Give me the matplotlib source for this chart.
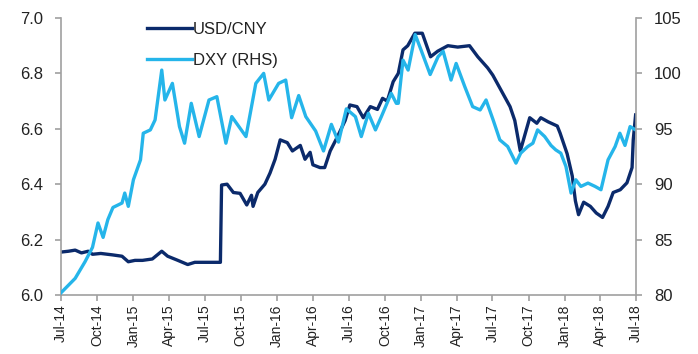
import pandas as pd
import matplotlib
matplotlib.use('Agg')
import matplotlib.pyplot as plt
import matplotlib.dates as mdates

plt.rcParams['font.family'] = ['Liberation Sans', 'DejaVu Sans']

cny_dates = ['2014-07-01', '2014-07-20', '2014-08-06', '2014-08-22', '2014-09-08', '2014-09-19',
             '2014-10-10', '2014-11-08', '2014-12-03', '2014-12-19', '2015-01-05', '2015-01-24',
             '2015-02-18', '2015-03-14', '2015-03-29', '2015-04-24', '2015-05-19', '2015-06-06',
             '2015-07-09', '2015-08-10', '2015-08-13', '2015-08-27', '2015-09-12', '2015-09-29',
             '2015-10-16', '2015-10-28', '2015-11-01', '2015-11-13', '2015-12-01', '2015-12-14',
             '2015-12-27', '2016-01-09', '2016-01-27', '2016-02-09', '2016-02-29', '2016-03-12',
             '2016-03-25', '2016-04-01', '2016-04-19', '2016-05-01', '2016-05-15', '2016-06-02',
             '2016-06-22', '2016-07-04', '2016-07-22', '2016-08-07', '2016-08-25', '2016-09-12',
             '2016-09-25', '2016-10-07', '2016-10-22', '2016-11-04', '2016-11-16', '2016-11-28',
             '2016-12-16', '2017-01-04', '2017-01-25', '2017-02-12', '2017-03-10', '2017-04-04',
             '2017-05-04', '2017-05-25', '2017-06-19', '2017-07-02', '2017-07-19', '2017-08-15',
             '2017-08-27', '2017-09-10', '2017-09-22', '2017-10-04', '2017-10-22', '2017-11-01',
             '2017-11-20', '2017-12-13', '2017-12-20', '2018-01-07', '2018-01-20', '2018-01-28',
             '2018-02-05', '2018-02-18', '2018-03-07', '2018-03-22', '2018-04-07', '2018-04-21',
             '2018-05-04', '2018-05-22', '2018-06-08', '2018-06-21', '2018-06-24', '2018-06-30']
cny_values = [6.155, 6.158, 6.162, 6.152, 6.158, 6.147,
              6.150, 6.145, 6.140, 6.120, 6.125, 6.125,
              6.130, 6.158, 6.140, 6.125, 6.110, 6.118,
              6.118, 6.118, 6.397, 6.400, 6.370, 6.367,
              6.325, 6.360, 6.320, 6.370, 6.400, 6.440,
              6.490, 6.560, 6.550, 6.520, 6.540, 6.490,
              6.515, 6.470, 6.460, 6.460, 6.520, 6.570,
              6.630, 6.686, 6.680, 6.640, 6.680, 6.670,
              6.710, 6.700, 6.770, 6.800, 6.885, 6.900,
              6.945, 6.945, 6.860, 6.880, 6.900, 6.895,
              6.900, 6.860, 6.820, 6.794, 6.750, 6.680,
              6.630, 6.520, 6.580, 6.640, 6.620, 6.640,
              6.625, 6.610, 6.585, 6.510, 6.430, 6.340,
              6.290, 6.335, 6.320, 6.296, 6.280, 6.320,
              6.370, 6.380, 6.405, 6.460, 6.560, 6.650]

dxy_dates = ['2014-07-01', '2014-08-06', '2014-08-31', '2014-09-19', '2014-10-03', '2014-10-16',
             '2014-10-28', '2014-11-10', '2014-12-03', '2014-12-10', '2014-12-19', '2015-01-01',
             '2015-01-19', '2015-01-26', '2015-02-13', '2015-02-25', '2015-03-14', '2015-03-22',
             '2015-04-10', '2015-04-28', '2015-05-11', '2015-05-28', '2015-06-17', '2015-07-12',
             '2015-08-01', '2015-08-24', '2015-09-08', '2015-10-14', '2015-11-08', '2015-11-28',
             '2015-12-11', '2016-01-05', '2016-01-23', '2016-02-07', '2016-02-25', '2016-03-14',
             '2016-04-08', '2016-04-28', '2016-05-18', '2016-06-05', '2016-06-25', '2016-07-18',
             '2016-08-02', '2016-08-20', '2016-09-07', '2016-09-22', '2016-10-17', '2016-10-30',
             '2016-11-04', '2016-11-16', '2016-11-29', '2016-12-17', '2017-01-01', '2017-01-24',
             '2017-02-13', '2017-02-26', '2017-03-18', '2017-03-31', '2017-04-22', '2017-05-12',
             '2017-05-31', '2017-06-15', '2017-07-03', '2017-07-20', '2017-08-09', '2017-08-30',
             '2017-09-11', '2017-09-29', '2017-10-12', '2017-10-24', '2017-11-11', '2017-11-27',
             '2017-12-09', '2017-12-22', '2018-01-04', '2018-01-17', '2018-01-29', '2018-02-11',
             '2018-03-01', '2018-03-19', '2018-04-03', '2018-04-21', '2018-05-09', '2018-05-21',
             '2018-06-03', '2018-06-16', '2018-06-30']
dxy_values = [80.2, 81.5, 83.0, 84.3, 86.5, 85.2,
              86.8, 87.9, 88.3, 89.2, 88.0, 90.4,
              92.2, 94.6, 94.9, 95.8, 100.3, 97.6,
              99.1, 95.2, 93.7, 97.3, 94.3, 97.6,
              97.9, 93.7, 96.1, 94.3, 99.1, 100.0,
              97.6, 99.1, 99.4, 96.0, 98.0, 96.1,
              94.8, 93.0, 95.4, 93.8, 96.8, 96.1,
              94.3, 96.4, 94.9, 96.1, 98.2, 97.3,
              97.3, 101.2, 100.3, 103.5, 102.1, 99.9,
              101.5, 102.0, 99.4, 100.9, 98.8, 97.0,
              96.7, 97.6, 95.8, 94.0, 93.4, 91.9,
              92.8, 93.4, 93.7, 94.9, 94.3, 93.5,
              93.1, 92.8, 91.6, 89.2, 90.4, 89.8,
              90.1, 89.8, 89.5, 92.2, 93.4, 94.6,
              93.5, 95.2, 94.9]

dark = '#0b2a6b'
light = '#25b5ea'
grey = '#a0a0a0'
txt = '#222222'

fig = plt.figure(figsize=(6.98, 3.54), dpi=100)
ax = fig.add_axes([61/698, 1 - 295/354, (636 - 61)/698, (295 - 18)/354])
ax2 = ax.twinx()

l1, = ax.plot(pd.to_datetime(cny_dates), cny_values, color=dark, lw=2.4, label='USD/CNY')
l2, = ax2.plot(pd.to_datetime(dxy_dates), dxy_values, color=light, lw=2.4, label='DXY (RHS)')

ax.set_xlim(pd.Timestamp('2014-07-01'), pd.Timestamp('2018-07-01'))
ax.set_ylim(6.0, 7.0)
ax2.set_ylim(80, 105)
ax.set_yticks([6.0, 6.2, 6.4, 6.6, 6.8, 7.0])
ax.set_yticklabels(['6.0', '6.2', '6.4', '6.6', '6.8', '7.0'])
ax2.set_yticks([80, 85, 90, 95, 100, 105])

ax.xaxis.set_major_locator(mdates.MonthLocator(bymonth=[1, 4, 7, 10]))
ax.xaxis.set_major_formatter(mdates.DateFormatter('%b-%y'))
for lbl in ax.get_xticklabels():
    lbl.set_rotation(90)

for a in (ax, ax2):
    a.spines['top'].set_visible(False)
    for s in ('left', 'right', 'bottom'):
        a.spines[s].set_color(grey)
        a.spines[s].set_linewidth(1.2)
ax.spines['right'].set_visible(False)
ax2.spines['left'].set_visible(False)
ax2.spines['bottom'].set_visible(False)

ax.tick_params(axis='y', length=4, width=1.2, color=grey, labelsize=12, pad=9, labelcolor=txt)
ax2.tick_params(axis='y', length=4, width=1.2, color=grey, labelsize=12, pad=9, labelcolor=txt)
ax.tick_params(axis='x', length=4, width=1.2, color=grey, labelsize=10, pad=3, labelcolor=txt)

ax.legend(handles=[l1, l2], loc='upper left', bbox_to_anchor=(147/698, 1 - 22/354),
          bbox_transform=fig.transFigure, frameon=False, fontsize=12, handlelength=2.7,
          handletextpad=0.05, labelspacing=0.95, borderpad=0, borderaxespad=0, labelcolor=txt)

fig.savefig('out.png', dpi=100, facecolor='white')
